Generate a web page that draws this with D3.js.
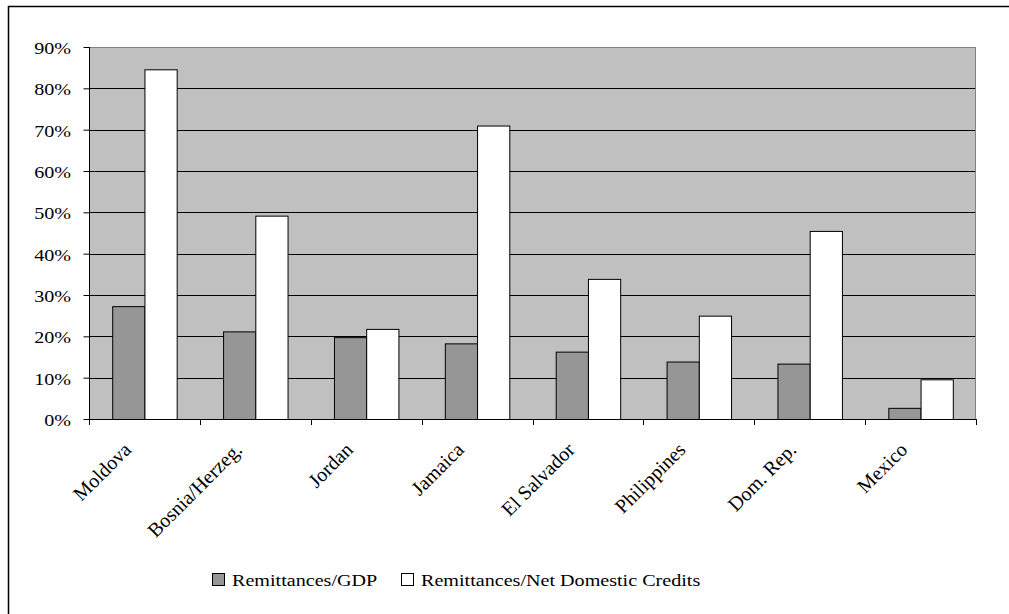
<!DOCTYPE html>
<html>
<head>
<meta charset="utf-8">
<script src="https://cdn.jsdelivr.net/npm/d3@7"></script>
<style>
  html, body { margin: 0; padding: 0; background: #fff; }
  svg { display: block; }
  svg text { font-family: "Liberation Serif", "Times New Roman", Times, "DejaVu Serif", serif; fill: #000; }
</style>
</head>
<body>
<svg id="chart" width="1009" height="614"></svg>
<script>
// Remittances relative to GDP and to net domestic credits, by country
const categories = ["Moldova", "Bosnia/Herzeg.", "Jordan", "Jamaica", "El Salvador", "Philippines", "Dom. Rep.", "Mexico"];
const remittancesGDP = [27.3, 21.2, 19.8, 18.3, 16.3, 13.9, 13.4, 2.7];
const remittancesCredits = [84.6, 49.2, 21.8, 71.0, 33.9, 25.0, 45.5, 9.6];
const seriesNames = ["Remittances/GDP", "Remittances/Net Domestic Credits"];
const yTicks = [0, 10, 20, 30, 40, 50, 60, 70, 80, 90];

const svg = d3.select("#chart");
const W = 1009, H = 614;
const plot = { left: 89, top: 47, right: 976, bottom: 419 };
const FONT = '"Liberation Serif", "Times New Roman", Times, "DejaVu Serif", serif';
const fontSize = 17.5;
const stretch = 1.15; // text is set slightly wide

// outer frame (top and left edges visible)
svg.append("path")
  .attr("d", `M8.5,${H} L8.5,6.5 L${W},6.5`)
  .attr("fill", "none").attr("stroke", "#000").attr("stroke-width", 1.5);

const x = d3.scaleBand().domain(categories).range([plot.left, plot.right]);
const y = d3.scaleLinear().domain([0, 90]).range([plot.bottom, plot.top]);
const inner = d3.scaleBand().domain(seriesNames)
  .range([0, x.bandwidth()]).paddingOuter(0.72).paddingInner(0);

const colors = ["#969696", "#ffffff"];

// plot background
svg.append("rect")
  .attr("x", plot.left).attr("y", plot.top)
  .attr("width", plot.right - plot.left).attr("height", plot.bottom - plot.top)
  .attr("fill", "#c0c0c0");

// horizontal gridlines
svg.append("g").selectAll("line").data(yTicks.filter(d => d > 0)).join("line")
  .attr("x1", plot.left).attr("x2", plot.right)
  .attr("y1", d => Math.round(y(d)) + 0.5).attr("y2", d => Math.round(y(d)) + 0.5)
  .attr("stroke", d => d === 90 ? "#808080" : "#000").attr("stroke-width", 1);

// plot right border
svg.append("line")
  .attr("x1", plot.right - 0.5).attr("x2", plot.right - 0.5)
  .attr("y1", plot.top).attr("y2", plot.bottom)
  .attr("stroke", "#808080").attr("stroke-width", 1);

// bars
const groups = svg.append("g").selectAll("g").data(categories).join("g")
  .attr("transform", d => `translate(${x(d)},0)`);
groups.selectAll("rect")
  .data((d, i) => [
    { s: seriesNames[0], v: remittancesGDP[i], c: colors[0] },
    { s: seriesNames[1], v: remittancesCredits[i], c: colors[1] }
  ])
  .join("rect")
  .attr("x", d => inner(d.s) + 0.5)
  .attr("y", d => y(d.v) + 0.5)
  .attr("width", inner.bandwidth())
  .attr("height", d => y(0) - y(d.v))
  .attr("fill", d => d.c)
  .attr("stroke", "#000").attr("stroke-width", 1);

// y axis
const yAxis = d3.axisLeft(y).tickValues(yTicks).tickFormat(d => d + "%").tickSize(6).tickPadding(0);
const gy = svg.append("g").attr("transform", `translate(${plot.left + 0.5},0)`).call(yAxis)
  .attr("font-family", null).attr("font-size", null);
gy.select(".domain").attr("stroke", "#000").attr("d", `M0,${plot.top}V${plot.bottom}`);
gy.selectAll(".tick line").attr("stroke", "#000").attr("x1", -6).attr("x2", 0);
gy.selectAll(".tick text")
  .style("font-family", FONT).style("font-size", fontSize + "px").attr("fill", "#000")
  .attr("x", 0).attr("dy", "0.38em")
  .attr("transform", `translate(-18.5,0) scale(${stretch},1)`);

// x axis: baseline with ticks at category boundaries
const xg = svg.append("g");
xg.append("line")
  .attr("x1", plot.left).attr("x2", plot.right)
  .attr("y1", plot.bottom + 0.5).attr("y2", plot.bottom + 0.5)
  .attr("stroke", "#000");
const boundaries = categories.map(c => x(c)).concat([plot.right]);
xg.selectAll("line.tk").data(boundaries).join("line").attr("class", "tk")
  .attr("x1", d => Math.round(d) + 0.5).attr("x2", d => Math.round(d) + 0.5)
  .attr("y1", plot.bottom).attr("y2", plot.bottom + 6)
  .attr("stroke", "#000");

// rotated category labels
xg.selectAll("text").data(categories).join("text")
  .attr("transform", d => `translate(${x(d) + x.bandwidth() / 2 - 17},${plot.bottom + 27}) rotate(-45)`)
  .attr("text-anchor", "end")
  .attr("dy", "0.35em")
  .style("font-family", FONT)
  .style("font-size", "20px")
  .text(d => d);

// legend
const legend = svg.append("g").attr("transform", "translate(212,573)");
const legendX = [0, 189];
seriesNames.forEach((name, i) => {
  const g = legend.append("g").attr("transform", `translate(${legendX[i]},0)`);
  g.append("rect").attr("x", 0.5).attr("y", 0.5).attr("width", 12).attr("height", 12)
    .attr("fill", colors[i]).attr("stroke", "#000");
  g.append("text")
    .attr("transform", `translate(20,13) scale(${stretch},1)`)
    .style("font-family", FONT).style("font-size", fontSize + "px")
    .text(name);
});
</script>
</body>
</html>
